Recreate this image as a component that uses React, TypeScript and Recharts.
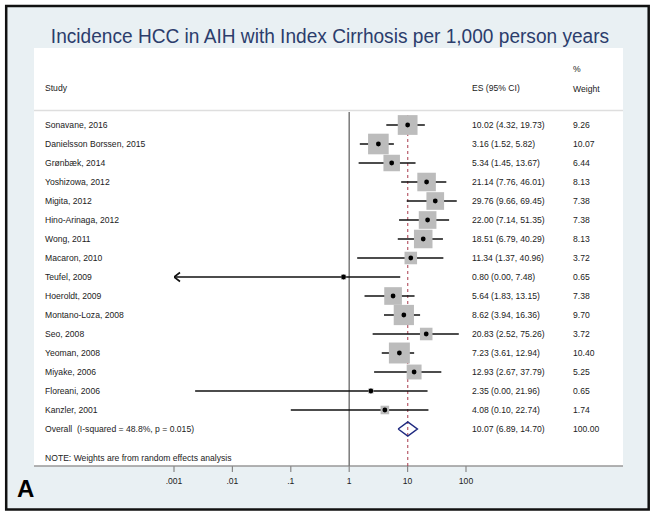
import React from 'react';
import { ScatterChart, Scatter, XAxis, YAxis, ReferenceLine, ErrorBar } from 'recharts';

const studies = [
  'Sonavane, 2016',
  'Danielsson Borssen, 2015',
  'Grønbæk, 2014',
  'Yoshizowa, 2012',
  'Migita, 2012',
  'Hino-Arinaga, 2012',
  'Wong, 2011',
  'Macaron, 2010',
  'Teufel, 2009',
  'Hoeroldt, 2009',
  'Montano-Loza, 2008',
  'Seo, 2008',
  'Yeoman, 2008',
  'Miyake, 2006',
  'Floreani, 2006',
  'Kanzler, 2001',
];
const overallLabel = 'Overall  (I-squared = 48.8%, p = 0.015)';
const esValues = [10.02, 3.16, 5.34, 21.14, 29.76, 22.0, 18.51, 11.34, 0.8, 5.64, 8.62, 20.83, 7.23, 12.93, 2.35, 4.08];
const ciLow = [4.32, 1.52, 1.45, 7.76, 9.66, 7.14, 6.79, 1.37, 0.0, 1.83, 3.94, 2.52, 3.61, 2.67, 0.0, 0.1];
const ciHigh = [19.73, 5.82, 13.67, 46.01, 69.45, 51.35, 40.29, 40.96, 7.48, 13.15, 16.36, 75.26, 12.94, 37.79, 21.96, 22.74];
// lower limits as drawn (values shown as 0.00 are small but positive)
const ciLowDrawn = [4.32, 1.52, 1.45, 7.76, 9.66, 7.14, 6.79, 1.37, 0.0005, 1.83, 3.94, 2.52, 3.61, 2.67, 0.0023, 0.1];
const weights = [9.26, 10.07, 6.44, 8.13, 7.38, 7.38, 8.13, 3.72, 0.65, 7.38, 9.7, 3.72, 10.4, 5.25, 0.65, 1.74];
const overallES = 10.07;
const overallLow = 6.89;
const overallHigh = 14.7;
const overallWeight = 100.0;
const xTicks = [0.001, 0.01, 0.1, 1, 10, 100];
const xTickLabels = ['.001', '.01', '.1', '1', '10', '100'];

const xMin = xTicks[0];
const xMax = xTicks[xTicks.length - 1];
const overallRow = studies.length;
const labels = [...studies, overallLabel];
const esText = [
  ...esValues.map((v, i) => `${v.toFixed(2)} (${ciLow[i].toFixed(2)}, ${ciHigh[i].toFixed(2)})`),
  `${overallES.toFixed(2)} (${overallLow.toFixed(2)}, ${overallHigh.toFixed(2)})`,
];
const weightText = [...weights.map((w) => w.toFixed(2)), overallWeight.toFixed(2)];
const rowTicks = labels.map((_, i) => i);

const rows = esValues.map((v, i) => ({
  x: v,
  y: i,
  w: weights[i],
  err: [v - Math.max(ciLowDrawn[i], xMin), ciHigh[i] - v],
}));
const arrows = rows.filter((_, i) => ciLowDrawn[i] < xMin).map((r) => ({ x: xMin, y: r.y }));
const diamond = [
  { x: overallLow, y: overallRow },
  { x: overallES, y: overallRow - 0.37 },
  { x: overallHigh, y: overallRow },
  { x: overallES, y: overallRow + 0.37 },
  { x: overallLow, y: overallRow },
];

const FONT = '"Liberation Sans", Arial, Helvetica, sans-serif';
const TXT = '#222';
const FS = 8.6;

const RowTick = (props: any) => {
  const { y, payload } = props;
  const i = payload.value;
  return (
    <g>
      <text x={45} y={y} dy="0.35em" fontSize={FS} fill={TXT} fontFamily={FONT} style={{ whiteSpace: 'pre' }}>
        {labels[i]}
      </text>
      <text x={472} y={y} dy="0.35em" fontSize={FS} fill={TXT} fontFamily={FONT}>
        {esText[i]}
      </text>
      <text x={573} y={y} dy="0.35em" fontSize={FS} fill={TXT} fontFamily={FONT}>
        {weightText[i]}
      </text>
    </g>
  );
};

const BoxShape = (props: any) => {
  const { cx, cy, payload } = props;
  const s = 6.5 * Math.sqrt(payload.w);
  return <rect x={cx - s / 2} y={cy - s / 2} width={s} height={s} fill="#bcbcbc" />;
};

const DotShape = (props: any) => {
  const { cx, cy } = props;
  return <circle cx={cx} cy={cy} r={2.4} fill="#000" />;
};

const ArrowShape = (props: any) => {
  const { cx, cy } = props;
  return (
    <path d={`M${cx + 6},${cy - 4.5} L${cx},${cy} L${cx + 6},${cy + 4.5}`} stroke="#111" strokeWidth={1.6} fill="none" />
  );
};

const NoShape = () => <g />;

export default function App() {
  return (
    <div style={{ position: 'absolute', left: 0, top: 0, width: 655, height: 517, background: '#fff' }}>
      <svg width={655} height={517} style={{ position: 'absolute', left: 0, top: 0 }}>
        <rect x={6.2} y={6} width={642.5} height={503.5} fill="#e9f0f3" stroke="#111" strokeWidth={2.5} />
        <rect x={34} y={48} width={589} height={418} fill="#fff" />
        <line x1={34} x2={623} y1={110.5} y2={110.5} stroke="#dedede" strokeWidth={1.5} />
        <line x1={34} x2={623} y1={466} y2={466} stroke="#999" strokeWidth={1.5} />
        <g transform="translate(330,43) scale(0.91,1)">
          <text x={0} y={0} textAnchor="middle" fontSize={21} fill="#2c3d6c" fontFamily={FONT}>
            Incidence HCC in AIH with Index Cirrhosis per 1,000 person years
          </text>
        </g>
        <text x={45} y={88} dy="0.35em" fontSize={FS} fill={TXT} fontFamily={FONT}>Study</text>
        <text x={472} y={88} dy="0.35em" fontSize={FS} fill={TXT} fontFamily={FONT}>ES (95% CI)</text>
        <text x={573} y={69} dy="0.35em" fontSize={FS} fill={TXT} fontFamily={FONT}>%</text>
        <text x={573} y={89} dy="0.35em" fontSize={FS} fill={TXT} fontFamily={FONT}>Weight</text>
        <text x={45} y={458} dy="0.35em" fontSize={FS} fill={TXT} fontFamily={FONT}>
          NOTE: Weights are from random effects analysis
        </text>
        <text x={17} y={497} fontSize={24} fontWeight="bold" fill="#000" fontFamily={FONT}>A</text>
      </svg>
      <div style={{ position: 'absolute', left: 0, top: 0 }}>
        <ScatterChart width={655} height={517} margin={{ top: 112, right: 189, bottom: 21, left: 0 }}>
          <XAxis
            type="number"
            dataKey="x"
            scale="log"
            domain={[xMin, xMax]}
            allowDataOverflow
            ticks={xTicks}
            interval={0}
            tickFormatter={(v: number) => xTickLabels[xTicks.indexOf(v)] ?? String(v)}
            axisLine={false}
            tickLine={{ stroke: '#888', strokeWidth: 1.2 }}
            tickSize={6}
            tickMargin={6}
            height={30}
            tick={{ fontSize: FS, fill: TXT, fontFamily: FONT }}
          />
          <YAxis
            type="number"
            dataKey="y"
            domain={[-13 / 19, 341 / 19]}
            allowDataOverflow
            reversed
            ticks={rowTicks}
            interval={0}
            width={174}
            axisLine={false}
            tickLine={false}
            tick={<RowTick />}
          />
          <ReferenceLine x={1} stroke="#7a7a7a" strokeWidth={1.5} />
          <ReferenceLine x={overallES} stroke="#a83a4c" strokeWidth={1} strokeDasharray="3 3" />
          <Scatter data={rows} shape={<BoxShape />} isAnimationActive={false} />
          <Scatter data={rows} shape={<DotShape />} isAnimationActive={false}>
            <ErrorBar dataKey="err" direction="x" width={0} stroke="#111" strokeWidth={1.6} isAnimationActive={false} />
          </Scatter>
          <Scatter data={arrows} shape={<ArrowShape />} isAnimationActive={false} />
          <Scatter
            data={diamond}
            shape={<NoShape />}
            line={{ stroke: '#1f2a80', strokeWidth: 1.5 }}
            lineType="joint"
            isAnimationActive={false}
          />
        </ScatterChart>
      </div>
    </div>
  );
}
